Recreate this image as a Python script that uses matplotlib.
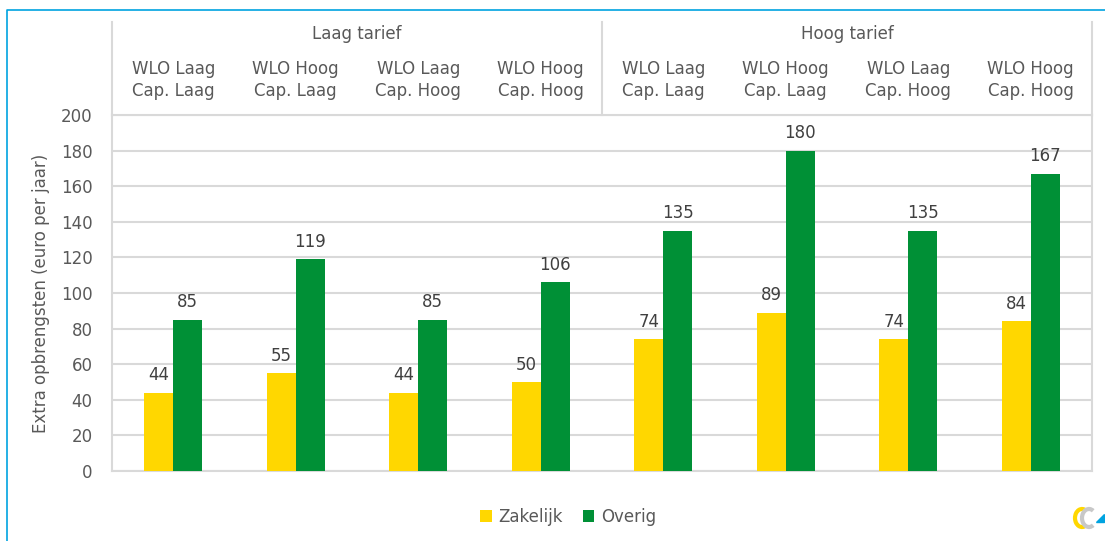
import numpy as np
import matplotlib.pyplot as plt
from matplotlib.lines import Line2D
from matplotlib.patches import Arc, Polygon

groups = ["Laag tarief", "Hoog tarief"]
categories = ["WLO Laag\nCap. Laag", "WLO Hoog\nCap. Laag", "WLO Laag\nCap. Hoog", "WLO Hoog\nCap. Hoog"] * 2
zakelijk = [44, 55, 44, 50, 74, 89, 74, 84]
overig = [85, 119, 85, 106, 135, 180, 135, 167]

grey_txt = "#595959"
grid_col = "#d9d9d9"
c_zak = "#FFD700"
c_ove = "#009036"

plt.rcParams['font.family'] = ['DejaVu Sans']

W, H = 1105, 541
fig = plt.figure(figsize=(W / 100, H / 100), dpi=100)
ax = fig.add_axes([112 / W, (H - 471) / H, (1092 - 112) / W, (471 - 115) / H])

x = np.arange(len(categories)) + 0.5
bw = 0.235
b1 = ax.bar(x - bw / 2, zakelijk, bw, color=c_zak, label="Zakelijk", zorder=3)
b2 = ax.bar(x + bw / 2, overig, bw, color=c_ove, label="Overig", zorder=3)
for bars in (b1, b2):
    ax.bar_label(bars, padding=6, fontsize=12, color="#404040")

ax.set_xlim(0, len(categories))
ax.set_ylim(0, 200)
ax.set_yticks(range(0, 201, 20))
ax.set_xticks([])
ax.yaxis.grid(True, color=grid_col, linewidth=1.5, zorder=0)
ax.axhline(200, color=grid_col, lw=1.5, clip_on=False, zorder=0)
ax.tick_params(axis="y", length=0, labelsize=12, labelcolor=grey_txt, pad=14)
for s in ["left", "bottom", "right"]:
    ax.spines[s].set_color(grid_col)
    ax.spines[s].set_linewidth(1.5)
ax.spines["top"].set_visible(False)
ax.set_ylabel("Extra opbrengsten (euro per jaar)", fontsize=12, color=grey_txt, labelpad=8)

# header with category and group labels
trans = ax.get_xaxis_transform()
top = 1.261
for xv in [0, 4, 8]:
    ax.plot([xv, xv], [1, top], transform=trans, color=grid_col, lw=1.5, clip_on=False)
for i, lab in enumerate(categories):
    ax.text(i + 0.5, 1.098, lab, transform=trans, ha="center", va="center",
            fontsize=12, color=grey_txt, linespacing=1.3)
for j, g in enumerate(groups):
    ax.text(j * 4 + 2, 1.228, g, transform=trans, ha="center", va="center",
            fontsize=12, color=grey_txt)

fig.legend(loc="center", bbox_to_anchor=(568 / W, (H - 517) / H), ncol=2, frameon=False,
           fontsize=12, labelcolor=grey_txt, handlelength=0.7, handleheight=0.7,
           handletextpad=0.4, columnspacing=1.2)

# blue frame
fig.add_artist(Line2D([7 / W, 7 / W, 1.0], [0, (H - 10) / H, (H - 10) / H],
                      transform=fig.transFigure, color="#00a3e0", lw=1.2))

# small logo, bottom right
lax = fig.add_axes([1070 / W, (H - 530) / H, 40 / W, 26 / H])
lax.set_xlim(0, 40)
lax.set_ylim(0, 26)
lax.axis("off")
lax.add_patch(Arc((12, 12), 14, 18, theta1=60, theta2=300, color="#FFD700", lw=3))
lax.add_patch(Arc((19, 12), 14, 18, theta1=60, theta2=300, color="#c8c8c8", lw=3))
lax.add_patch(Polygon([[26, 8], [34, 8], [34, 16]], color="#00a3e0"))

fig.savefig("out.png", dpi=100)
